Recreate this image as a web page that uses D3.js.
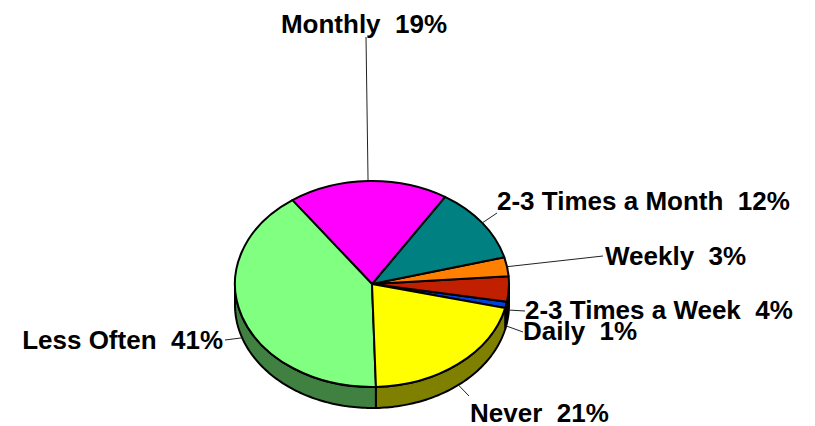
<!DOCTYPE html>
<html>
<head>
<meta charset="utf-8">
<script src="https://cdn.jsdelivr.net/npm/d3@7"></script>
<style>
  html, body { margin: 0; padding: 0; background: #fff; }
  svg { display: block; }
  text { font-family: "Liberation Sans", Arial, sans-serif; font-weight: bold; font-size: 26px; fill: #000; white-space: pre; }
</style>
</head>
<body>
<svg id="chart" width="815" height="426"></svg>
<script>
// ---- data (counter-clockwise order as drawn) ----
const categories = ["Daily", "2-3 Times a Week", "Weekly", "2-3 Times a Month", "Monthly", "Less Often", "Never"];
const values = [1, 4, 3, 12, 19, 41, 21];
const labels = ["Daily  1%", "2-3 Times a Week  4%", "Weekly  3%", "2-3 Times a Month  12%", "Monthly  19%", "Less Often  41%", "Never  21%"];
const topColors = ["#0040E0", "#C02000", "#FF8000", "#008080", "#FF00FF", "#80FF80", "#FFFF00"];
const sideColors = ["#002070", "#601000", "#804000", "#004040", "#800080", "#408040", "#808000"];

// ---- layout ----
const cx = 372, cy = 284, rx = 137, ry = 103, depth = 21;
const startDeg = 103.5;
const labelLayout = [
  { lx: 523, ly: 332, tx: 523, ty: 340, anchor: "start" },
  { lx: 525, ly: 311, tx: 525, ty: 319, anchor: "start" },
  { lx: 603, ly: 256, tx: 605, ty: 265, anchor: "start" },
  { lx: 497, ly: 213, tx: 497, ty: 210, anchor: "start" },
  { lx: 366, ly: 37,  tx: 364, ty: 33,  anchor: "middle" },
  { lx: 225, ly: 340, tx: 223, ty: 349, anchor: "end" },
  { lx: 469, ly: 396, tx: 470, ty: 422, anchor: "start" }
];

const svg = d3.select("#chart");
const data = categories.map((c, i) => ({ cat: c, value: values[i], i }));
const a0 = startDeg * Math.PI / 180;
const pie = d3.pie().sort(null).value(d => d.value).startAngle(a0).endAngle(a0 - 2 * Math.PI);
const arcs = pie(data);

const px = a => cx + rx * Math.sin(a);
const py = a => cy - ry * Math.cos(a);

// side walls (visible front half: angles between PI/2 and 3PI/2)
const norm = a => { let t = a % (2 * Math.PI); if (t < 0) t += 2 * Math.PI; return t; };
const line = d3.line().x(p => p[0]).y(p => p[1]);
const sideG = svg.append("g");
arcs.forEach(a => {
  let lo = Math.min(a.startAngle, a.endAngle), hi = Math.max(a.startAngle, a.endAngle);
  // shift so that lo is in [0, 2PI)
  const shift = norm(lo) - lo; lo += shift; hi += shift;
  const segs = [];
  [[Math.PI / 2, 3 * Math.PI / 2], [Math.PI / 2 + 2 * Math.PI, 3 * Math.PI / 2 + 2 * Math.PI]].forEach(([s, e]) => {
    const l = Math.max(lo, s), h = Math.min(hi, e);
    if (h > l) segs.push([l, h]);
  });
  segs.forEach(([l, h]) => {
    const n = Math.max(2, Math.ceil((h - l) / 0.02));
    const top = d3.range(n + 1).map(k => l + (h - l) * k / n);
    const pts = top.map(t => [px(t), py(t)]).concat(top.slice().reverse().map(t => [px(t), py(t) + depth]));
    sideG.append("path")
      .attr("d", line(pts) + "Z")
      .attr("fill", sideColors[a.data.i])
      .attr("stroke", "#000").attr("stroke-width", 2).attr("stroke-linejoin", "round");
  });
});

// top faces
const arcGen = d3.arc().innerRadius(0).outerRadius(rx);
svg.append("g")
  .attr("transform", `translate(${cx},${cy}) scale(1,${ry / rx})`)
  .selectAll("path").data(arcs).join("path")
  .attr("d", arcGen)
  .attr("fill", d => topColors[d.data.i])
  .attr("stroke", "#000").attr("stroke-width", 2).attr("stroke-linejoin", "round")
  .attr("vector-effect", "non-scaling-stroke");

// leader lines and labels
const lg = svg.append("g");
arcs.forEach(a => {
  const mid = (a.startAngle + a.endAngle) / 2;
  const ax = px(mid);
  let ay = py(mid);
  if (Math.cos(mid) < 0) ay += depth;
  const L = labelLayout[a.data.i];
  lg.append("line")
    .attr("x1", ax).attr("y1", ay).attr("x2", L.lx).attr("y2", L.ly)
    .attr("stroke", "#222").attr("stroke-width", 1);
  lg.append("text")
    .attr("x", L.tx).attr("y", L.ty).attr("text-anchor", L.anchor)
    .text(labels[a.data.i]);
});
</script>
</body>
</html>
